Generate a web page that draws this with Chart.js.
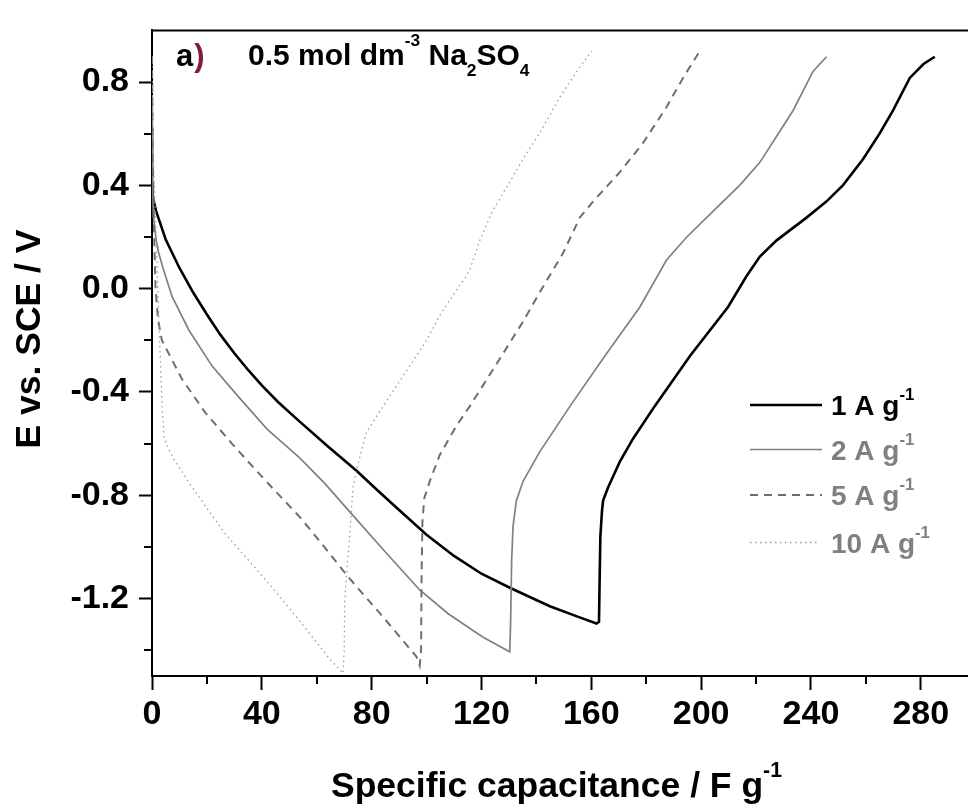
<!DOCTYPE html>
<html><head><meta charset="utf-8">
<script src="https://cdn.jsdelivr.net/npm/chart.js@4.4.0/dist/chart.umd.min.js"></script>
<style>html,body{margin:0;padding:0;background:#fff;}#wrap{width:968px;height:809px;position:relative;}</style>
</head><body><div id="wrap"><canvas id="c" width="968" height="809"></canvas></div>
<script>
const FONT = "'Liberation Sans', Arial, Helvetica, sans-serif";

// tick labels
const xMajorTicks = [0, 40, 80, 120, 160, 200, 240, 280];
const xMinorTicks = [20, 60, 100, 140, 180, 220, 260];
const yMajorTicks = [0.8, 0.4, 0.0, -0.4, -0.8, -1.2];
const yMinorTicks = [0.6, 0.2, -0.2, -0.6, -1.0, -1.4];

// series names (superscript "-1" added when drawn)
const seriesNames = ['1 A g', '2 A g', '5 A g', '10 A g'];

// 1 A g-1
const cap1 = [0, 0, 0.4, 1.5, 5, 10, 15, 20, 25, 30, 35, 40, 46, 53.8, 64, 74.5, 82, 90.2, 100, 110, 120, 130.9, 144.9, 155, 161.9, 162.8, 163.0, 163.3, 163.9, 164.3, 166.1, 170.4, 175.2, 183.1, 196, 209.8, 216.5, 221.4, 227.5, 238.4, 245.7, 251.7, 259, 265.1, 269.9, 276, 281, 285.1];
const pot1 = [0.62, 0.40, 0.35, 0.30, 0.19, 0.08, -0.015, -0.10, -0.18, -0.25, -0.315, -0.375, -0.44, -0.515, -0.61, -0.705, -0.78, -0.859, -0.953, -1.035, -1.104, -1.161, -1.230, -1.27, -1.297, -1.29, -1.15, -0.96, -0.86, -0.821, -0.77, -0.67, -0.581, -0.455, -0.26, -0.071, 0.048, 0.124, 0.187, 0.275, 0.338, 0.401, 0.502, 0.602, 0.69, 0.816, 0.87, 0.898];

// 2 A g-1
const cap2 = [0, 0.1, 0.5, 1.5, 2.4, 4, 7.3, 13.4, 21.9, 31.6, 42, 53.8, 63, 72.6, 85, 97.5, 108, 120.6, 130.3, 130.6, 131.0, 131.5, 132.7, 135.2, 141.2, 152.2, 165, 177.7, 187.4, 194.7, 205.6, 214.1, 221.4, 227.5, 233.5, 240.8, 245.7];
const pot2 = [0.75, 0.45, 0.28, 0.19, 0.14, 0.08, -0.03, -0.16, -0.30, -0.42, -0.545, -0.655, -0.755, -0.871, -1.02, -1.167, -1.26, -1.35, -1.406, -1.30, -1.05, -0.92, -0.821, -0.745, -0.632, -0.456, -0.26, -0.071, 0.111, 0.199, 0.313, 0.401, 0.489, 0.59, 0.69, 0.842, 0.898];

// 5 A g-1
const cap5 = [0, 0.3, 0.8, 1.3, 2.2, 3.6, 10.9, 19.4, 29.1, 37.6, 45, 53.8, 62, 72, 85.4, 96.3, 97.5, 98.0, 98.2, 98.5, 99.2, 101.2, 104.8, 110.9, 115.7, 125, 135, 142, 149.7, 155.8, 160.7, 170.4, 178.9, 187.4, 193.4, 197.1, 199.5];
const pot5 = [0.9, 0.5, 0.2, 0.0, -0.12, -0.20, -0.35, -0.48, -0.60, -0.70, -0.785, -0.884, -0.99, -1.123, -1.287, -1.425, -1.46, -1.40, -1.10, -0.90, -0.81, -0.745, -0.644, -0.531, -0.456, -0.30, -0.13, 0.0, 0.137, 0.275, 0.338, 0.451, 0.565, 0.703, 0.816, 0.879, 0.92];

// 10 A g-1
const cap10 = [0, 0.3, 1.0, 1.8, 2.6, 3.3, 3.9, 4.5, 6, 8, 13.4, 20, 26.7, 35, 44, 53.8, 65, 68.4, 69.6, 70.0, 70.2, 71.0, 72, 73.2, 75, 78.1, 84.2, 92, 100, 105, 110, 112.5, 114, 116, 119.4, 124, 130.3, 135, 141.2, 148.5, 154, 160.1];
const pot10 = [0.9, 0.6, 0.35, 0.1, -0.15, -0.35, -0.50, -0.58, -0.62, -0.66, -0.75, -0.85, -0.95, -1.05, -1.16, -1.287, -1.438, -1.476, -1.49, -1.40, -1.211, -1.08, -0.958, -0.77, -0.682, -0.556, -0.455, -0.33, -0.20, -0.10, -0.02, 0.02, 0.04, 0.08, 0.187, 0.30, 0.413, 0.50, 0.602, 0.741, 0.83, 0.92];

const toPts = (c, e) => c.map((x, i) => ({x: x, y: e[i]}));

const styles = [
  {color: '#000000', width: 2.6, dash: [], legendText: '#000000', legendLen: 72},
  {color: '#808080', width: 1.7, dash: [], legendText: '#808080', legendLen: 72},
  {color: '#6e6e6e', width: 2.0, dash: [8, 6], legendText: '#808080', legendLen: 72},
  {color: '#9c9c9c', width: 1.3, dash: [1.5, 3.5], legendText: '#808080', legendLen: 67}
];
const allData = [toPts(cap1, pot1), toPts(cap2, pot2), toPts(cap5, pot5), toPts(cap10, pot10)];

function drawRich(ctx, x, y, parts, size, color, supOff, subOff, scale) {
  let cx = x;
  ctx.fillStyle = color;
  ctx.textAlign = 'left';
  ctx.textBaseline = 'alphabetic';
  for (const [t, mode] of parts) {
    const s = mode === 0 ? size : size * scale;
    ctx.font = 'bold ' + s + 'px ' + FONT;
    const dy = mode === 1 ? supOff : (mode === -1 ? subOff : 0);
    ctx.fillText(t, cx, y + dy);
    cx += ctx.measureText(t).width;
  }
  return cx;
}

const decor = {
  id: 'decor',
  afterDraw(chart) {
    const ctx = chart.ctx;
    const xs = chart.scales.x, ys = chart.scales.y;
    const a = chart.chartArea;
    ctx.save();
    // top frame line
    ctx.strokeStyle = '#000'; ctx.lineWidth = 2; ctx.setLineDash([]);
    ctx.beginPath(); ctx.moveTo(a.left - 1, a.top); ctx.lineTo(968, a.top); ctx.stroke();
    // minor ticks
    ctx.lineWidth = 2;
    for (const v of xMinorTicks) {
      const p = Math.round(xs.getPixelForValue(v));
      ctx.beginPath(); ctx.moveTo(p, a.bottom); ctx.lineTo(p, a.bottom + 8); ctx.stroke();
    }
    for (const v of yMinorTicks) {
      const p = Math.round(ys.getPixelForValue(v));
      ctx.beginPath(); ctx.moveTo(a.left, p); ctx.lineTo(a.left - 8, p); ctx.stroke();
    }
    // axis titles
    drawRich(ctx, 331, 797, [['Specific capacitance / F g', 0], ['-1', 1]], 35.5, '#000', -20, 0, 0.6);
    ctx.save();
    ctx.translate(30, 339); ctx.rotate(-Math.PI / 2);
    ctx.font = 'bold 35.5px ' + FONT; ctx.fillStyle = '#000';
    ctx.textAlign = 'center'; ctx.textBaseline = 'middle';
    ctx.fillText('E vs. SCE / V', 0, 0);
    ctx.restore();
    // panel annotation
    ctx.font = 'bold 31px ' + FONT; ctx.fillStyle = '#000'; ctx.textAlign = 'left'; ctx.textBaseline = 'alphabetic';
    ctx.fillText('a', 176, 66);
    const aw = ctx.measureText('a').width;
    ctx.fillStyle = '#7d1d3f';
    ctx.font = 'bold 31px ' + FONT;
    ctx.fillText(')', 176 + aw + 1, 66);
    drawRich(ctx, 248, 65, [['0.5 mol dm', 0], ['-3', 1], [' Na', 0], ['2', -1], ['SO', 0], ['4', -1]], 30, '#000', -19, 11, 0.58);
    // legend
    const rowsY = [405, 449.5, 495, 542.5];
    for (let i = 0; i < 4; i++) {
      const st = styles[i];
      ctx.strokeStyle = st.color; ctx.lineWidth = st.width; ctx.setLineDash(st.dash);
      ctx.beginPath(); ctx.moveTo(750, rowsY[i]); ctx.lineTo(750 + st.legendLen, rowsY[i]); ctx.stroke();
      ctx.setLineDash([]);
      drawRich(ctx, 831, rowsY[i] + 10, [[seriesNames[i], 0], ['-1', 1]], 28, st.legendText, -15, 0, 0.6);
    }
    ctx.restore();
  }
};

new Chart(document.getElementById('c'), {
  type: 'scatter',
  data: {
    datasets: allData.map((d, i) => ({
      label: seriesNames[i] + '-1',
      data: d,
      showLine: true,
      borderColor: styles[i].color,
      borderWidth: styles[i].width,
      borderDash: styles[i].dash,
      pointRadius: 0,
      tension: 0,
      fill: false
    })).reverse()
  },
  options: {
    responsive: false,
    animation: false,
    devicePixelRatio: 1,
    layout: {padding: {top: 14, right: 0, left: 0, bottom: 0}},
    plugins: {legend: {display: false}, tooltip: {enabled: false}},
    scales: {
      x: {
        type: 'linear', min: 0, max: 297.2, position: 'bottom',
        afterBuildTicks: s => { s.ticks = xMajorTicks.map(v => ({value: v})); },
        afterFit: s => { s.height = 133; },
        ticks: {font: {family: FONT, size: 34, weight: 'bold'}, color: '#000', padding: 4, maxRotation: 0, autoSkip: false, callback: v => String(v)},
        grid: {drawOnChartArea: false, drawTicks: true, tickLength: 14, tickWidth: 2, tickColor: '#000'},
        border: {display: true, color: '#000', width: 2}
      },
      y: {
        type: 'linear', min: -1.5, max: 1.0, position: 'left',
        afterBuildTicks: s => { s.ticks = yMajorTicks.map(v => ({value: v})); },
        afterFit: s => { s.width = 152; },
        ticks: {font: {family: FONT, size: 34, weight: 'bold'}, color: '#000', padding: 10, autoSkip: false, callback: v => Number(v).toFixed(1)},
        grid: {drawOnChartArea: false, drawTicks: true, tickLength: 13, tickWidth: 2, tickColor: '#000'},
        border: {display: true, color: '#000', width: 2}
      }
    }
  },
  plugins: [decor]
});
</script>
</body></html>
